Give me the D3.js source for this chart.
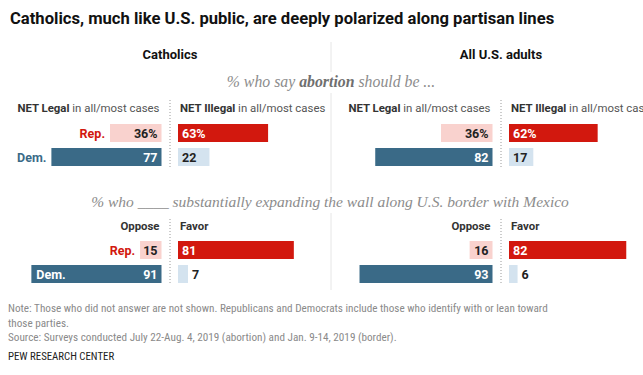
<!DOCTYPE html>
<html>
<head>
<meta charset="utf-8">
<script src="https://cdn.jsdelivr.net/npm/d3@7"></script>
<style>
  body { margin: 0; background: #fff; }
  svg { display: block; font-family: Roboto, "Liberation Sans", sans-serif; }
</style>
</head>
<body>
<script>
// data
const parties = ["Rep.", "Dem."];
const groups = ["Catholics", "All U.S. adults"];

const catholicLegal = [36, 77];
const catholicIllegal = [63, 22];
const usLegal = [36, 82];
const usIllegal = [62, 17];

const catholicOppose = [15, 91];
const catholicFavor = [81, 7];
const usOppose = [16, 93];
const usFavor = [82, 6];

const width = 643;
const height = 375;

const red = "#d2180e";
const pink = "#f9d2ce";
const blue = "#3a6a87";
const lightBlue = "#d4e3ef";

const svg = d3
  .select("body")
  .append("svg")
  .attr("width", width)
  .attr("height", height);

// px per percentage point
const x = d3.scaleLinear().domain([0, 100]).range([0, 143]);

// rows inside each block
const row = d3.scaleBand().domain(parties).range([0, 42]).paddingInner(0.25);

// title
svg
  .append("text")
  .attr("x", 10)
  .attr("y", 24)
  .style("font-size", "16.6px")
  .style("font-weight", "bold")
  .style("fill", "#111")
  .text("Catholics, much like U.S. public, are deeply polarized along partisan lines");

// gray separator between the two groups
[[42, 72], [93, 193], [213, 290]].forEach(function (s) {
  svg
    .append("line")
    .attr("x1", 331)
    .attr("x2", 331)
    .attr("y1", s[0])
    .attr("y2", s[1])
    .style("stroke", "#e6e6e6");
});

const centers = [170, 501];

groups.forEach(function (g, i) {
  svg
    .append("text")
    .attr("x", centers[i])
    .attr("y", 59)
    .attr("text-anchor", "middle")
    .style("font-size", "13px")
    .style("font-weight", "bold")
    .style("fill", "#111")
    .text(g);
});

// serif italic subtitles
const sub1 = svg
  .append("text")
  .attr("x", 331)
  .attr("y", 87)
  .attr("text-anchor", "middle")
  .style("font-family", "'Liberation Serif', 'DejaVu Serif', serif")
  .style("font-style", "italic")
  .style("font-size", "15.8px")
  .style("fill", "#8c8c8c");
sub1.append("tspan").text("% who say ");
sub1.append("tspan").style("font-weight", "bold").style("fill", "#6f6f6f").text("abortion");
sub1.append("tspan").text(" should be ...");

svg
  .append("text")
  .attr("x", 330)
  .attr("y", 207)
  .attr("text-anchor", "middle")
  .style("font-family", "'Liberation Serif', 'DejaVu Serif', serif")
  .style("font-style", "italic")
  .style("font-size", "15.5px")
  .style("fill", "#8c8c8c")
  .text("% who ____ substantially expanding the wall along U.S. border with Mexico");

function drawBlock(opts) {
  const cx = opts.center;
  const leftEnd = cx - 8.5;
  const rightStart = cx + 8;
  const top = opts.top;

  // dotted divider
  svg
    .append("line")
    .attr("x1", cx)
    .attr("x2", cx)
    .attr("y1", opts.lineTop)
    .attr("y2", top + 44)
    .style("stroke", "#9a9a9a")
    .style("stroke-dasharray", "1,2");

  // column headers
  const lh = svg
    .append("text")
    .attr("x", leftEnd - 2)
    .attr("y", opts.headerY)
    .attr("text-anchor", "end")
    .style("font-size", "11.4px")
    .style("fill", "#555");
  lh.append("tspan").style("font-weight", "bold").style("fill", "#333").text(opts.leftHead[0]);
  if (opts.leftHead[1]) lh.append("tspan").text(opts.leftHead[1]);

  const rh = svg
    .append("text")
    .attr("x", rightStart + 2)
    .attr("y", opts.headerY)
    .style("font-size", "11.4px")
    .style("fill", "#555");
  rh.append("tspan").style("font-weight", "bold").style("fill", "#333").text(opts.rightHead[0]);
  if (opts.rightHead[1]) rh.append("tspan").text(opts.rightHead[1]);

  const g = svg.append("g").attr("transform", "translate(0," + top + ")");

  // left bars (legal / oppose)
  g.selectAll(".lbar")
    .data(opts.left)
    .enter()
    .append("rect")
    .attr("x", (d) => leftEnd - x(d))
    .attr("y", (d, i) => row(parties[i]))
    .attr("width", (d) => x(d))
    .attr("height", row.bandwidth())
    .style("fill", (d, i) => (i === 0 ? pink : blue));

  g.selectAll(".lval")
    .data(opts.left)
    .enter()
    .append("text")
    .attr("x", leftEnd - 4)
    .attr("y", (d, i) => row(parties[i]) + row.bandwidth() / 2)
    .attr("dy", "0.36em")
    .attr("text-anchor", "end")
    .style("font-size", "12.5px")
    .style("font-weight", "bold")
    .style("fill", (d, i) => (i === 0 ? "#222" : "#fff"))
    .text((d, i) => (i === 0 && opts.pct ? d + "%" : d));

  // right bars (illegal / favor)
  g.selectAll(".rbar")
    .data(opts.right)
    .enter()
    .append("rect")
    .attr("x", rightStart)
    .attr("y", (d, i) => row(parties[i]))
    .attr("width", (d) => x(d))
    .attr("height", row.bandwidth())
    .style("fill", (d, i) => (i === 0 ? red : lightBlue));

  g.selectAll(".rval")
    .data(opts.right)
    .enter()
    .append("text")
    .attr("x", (d) => (x(d) < 20 ? rightStart + x(d) + 4 : rightStart + 4))
    .attr("y", (d, i) => row(parties[i]) + row.bandwidth() / 2)
    .attr("dy", "0.36em")
    .style("font-size", "12.5px")
    .style("font-weight", "bold")
    .style("fill", (d, i) => (i === 0 ? "#fff" : "#222"))
    .text((d, i) => (i === 0 && opts.pct ? d + "%" : d));

  // party labels, only on the Catholic side
  if (opts.partyLabels) {
    parties.forEach(function (p, i) {
      const start = leftEnd - x(opts.left[i]);
      const inside = start < 40;
      g.append("text")
        .attr("x", inside ? start + 5 : start - 5)
        .attr("y", row(p) + row.bandwidth() / 2)
        .attr("dy", "0.36em")
        .attr("text-anchor", inside ? "start" : "end")
        .style("font-size", "12.5px")
        .style("font-weight", "bold")
        .style("fill", inside ? "#fff" : i === 0 ? red : blue)
        .text(p);
    });
  }
}

drawBlock({
  center: centers[0], top: 124, lineTop: 100, headerY: 112, pct: true, partyLabels: true,
  left: catholicLegal, right: catholicIllegal,
  leftHead: ["NET Legal", " in all/most cases"], rightHead: ["NET Illegal", " in all/most cases"]
});
drawBlock({
  center: centers[1], top: 124, lineTop: 100, headerY: 112, pct: true, partyLabels: false,
  left: usLegal, right: usIllegal,
  leftHead: ["NET Legal", " in all/most cases"], rightHead: ["NET Illegal", " in all/most cases"]
});
drawBlock({
  center: centers[0], top: 241, lineTop: 219, headerY: 230, pct: false, partyLabels: true,
  left: catholicOppose, right: catholicFavor,
  leftHead: ["Oppose"], rightHead: ["Favor"]
});
drawBlock({
  center: centers[1], top: 241, lineTop: 219, headerY: 230, pct: false, partyLabels: false,
  left: usOppose, right: usFavor,
  leftHead: ["Oppose"], rightHead: ["Favor"]
});

// notes
const notes = [
  "Note: Those who did not answer are not shown. Republicans and Democrats include those who identify with or lean toward",
  "those parties.",
  "Source: Surveys conducted July 22-Aug. 4, 2019 (abortion) and Jan. 9-14, 2019 (border)."
];
svg
  .selectAll(".note")
  .data(notes)
  .enter()
  .append("text")
  .attr("x", 8)
  .attr("y", (d, i) => 312 + i * 14.5)
  .style("font-family", "'Liberation Sans Narrow', 'Roboto Condensed', Roboto, sans-serif")
  .style("font-size", "11.2px")
  .style("fill", "#8a8a8a")
  .text((d) => d);

svg
  .append("text")
  .attr("x", 8)
  .attr("y", 360)
  .style("font-family", "'Liberation Sans Narrow', 'Roboto Condensed', Roboto, sans-serif")
  .style("font-size", "10.8px")
  .style("fill", "#222")
  .text("PEW RESEARCH CENTER");
</script>
</body>
</html>
